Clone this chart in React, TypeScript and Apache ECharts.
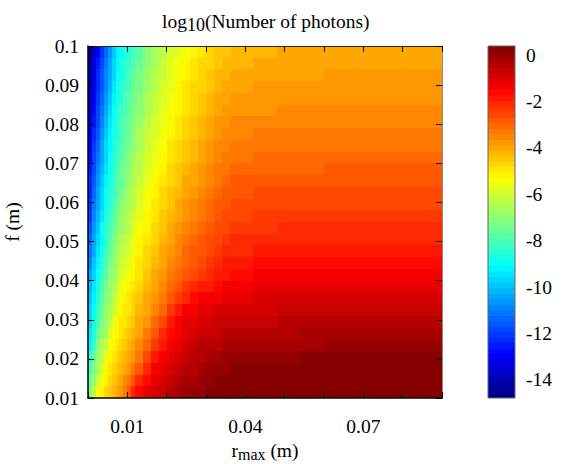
import React, { useEffect, useRef } from "react";
import * as echarts from "echarts";

const rEdges = [0, 0.001, 0.002, 0.003, 0.004, 0.005, 0.006, 0.007, 0.008, 0.009, 0.01, 0.011, 0.012, 0.014, 0.016, 0.018, 0.02, 0.022, 0.024, 0.026, 0.028, 0.03, 0.032, 0.034, 0.036, 0.042, 0.048, 0.054, 0.06, 0.066, 0.072, 0.078, 0.084, 0.09];
const fEdges = [0.01, 0.013, 0.016, 0.019, 0.022, 0.025, 0.028, 0.031, 0.034, 0.037, 0.04, 0.043, 0.046, 0.049, 0.052, 0.055, 0.058, 0.061, 0.064, 0.067, 0.07, 0.073, 0.076, 0.079, 0.082, 0.085, 0.088, 0.091, 0.094, 0.097, 0.1];
const rTicks = [0, 0.01, 0.02, 0.03, 0.04, 0.05, 0.06, 0.07, 0.08, 0.09];
const rLabels = [0.01, 0.04, 0.07];
const barLabels = [-14, -12, -10, -8, -6, -4, -2, 0];
const barMin = -14.78;
const barMax = 0.39;
const bandCount = 64;

// log10(number of photons); rows run from low f to high f
const logPhotons = [
  [-7.2,-6.2,-5.45,-5.15,-4.8,-4.5,-4.25,-4,-3.65,-3.25,-2.7,-2.15,-1.55,-1.25,-0.95,-0.7,-0.47,-0.24,-0.05,0.04,0.12,0.18,0.23,0.27,0.31,0.34,0.35,0.35,0.35,0.35,0.35,0.35,0.35],
  [-7.6,-6.85,-6.2,-5.4,-5.1,-4.8,-4.5,-4.2,-3.9,-3.6,-3.2,-2.8,-2.2,-1.6,-1.25,-0.92,-0.7,-0.48,-0.28,-0.14,-0.02,0.09,0.17,0.21,0.26,0.3,0.31,0.32,0.32,0.32,0.32,0.32,0.32],
  [-8,-7.1,-6.55,-5.9,-5.2,-4.95,-4.7,-4.45,-4.15,-3.95,-3.7,-3.35,-2.8,-2,-1.5,-1.12,-0.87,-0.66,-0.47,-0.33,-0.16,-0.05,0.05,0.13,0.2,0.25,0.27,0.28,0.28,0.28,0.28,0.28,0.28],
  [-8.5,-7.55,-6.9,-6.4,-5.7,-5.2,-4.95,-4.7,-4.4,-4.25,-4.05,-3.75,-3.3,-2.6,-1.9,-1.45,-1.1,-0.88,-0.68,-0.52,-0.38,-0.25,-0.13,-0.04,0.06,0.12,0.15,0.16,0.17,0.17,0.17,0.17,0.17],
  [-9.1,-8.2,-7.15,-6.7,-6.15,-5.45,-5.15,-4.95,-4.7,-4.5,-4.25,-4.05,-3.6,-3.05,-2.35,-1.75,-1.35,-1.07,-0.85,-0.7,-0.52,-0.42,-0.34,-0.27,-0.19,-0.13,-0.1,-0.09,-0.08,-0.08,-0.08,-0.08,-0.08],
  [-9.4,-8.5,-7.55,-7,-6.5,-5.95,-5.35,-5.1,-4.9,-4.75,-4.5,-4.25,-3.95,-3.4,-2.85,-2.15,-1.65,-1.35,-1.08,-0.92,-0.78,-0.67,-0.57,-0.5,-0.43,-0.37,-0.34,-0.32,-0.31,-0.31,-0.31,-0.31,-0.31],
  [-9.6,-8.75,-8,-7.2,-6.8,-6.3,-5.75,-5.25,-5,-4.85,-4.65,-4.45,-4.1,-3.65,-3.1,-2.55,-1.95,-1.45,-1.2,-1.05,-0.93,-0.85,-0.79,-0.74,-0.66,-0.58,-0.55,-0.53,-0.52,-0.52,-0.52,-0.52,-0.52],
  [-9.8,-9,-8.3,-7.5,-6.95,-6.55,-6.05,-5.55,-5.2,-5.05,-4.85,-4.6,-4.35,-3.95,-3.45,-3,-2.45,-1.95,-1.5,-1.35,-1.2,-1.1,-1,-0.95,-0.87,-0.81,-0.78,-0.76,-0.75,-0.75,-0.75,-0.75,-0.75],
  [-10,-9.2,-8.5,-7.8,-7.15,-6.75,-6.3,-5.85,-5.45,-5.25,-5.05,-4.8,-4.55,-4.1,-3.65,-3.25,-2.85,-2.45,-2.05,-1.72,-1.5,-1.38,-1.27,-1.18,-1.07,-1.02,-1,-0.98,-0.97,-0.97,-0.97,-0.97,-0.97],
  [-10.2,-9.4,-8.7,-8.05,-7.4,-6.95,-6.55,-6.1,-5.75,-5.5,-5.2,-5,-4.65,-4.3,-3.9,-3.5,-3.1,-2.75,-2.4,-2.1,-1.92,-1.76,-1.62,-1.5,-1.35,-1.26,-1.22,-1.2,-1.19,-1.19,-1.19,-1.19,-1.19],
  [-10.5,-9.7,-8.95,-8.3,-7.7,-7.15,-6.75,-6.35,-6,-5.75,-5.35,-5.15,-4.85,-4.5,-4.1,-3.75,-3.35,-3.05,-2.75,-2.5,-2.3,-2.12,-1.97,-1.85,-1.65,-1.5,-1.45,-1.43,-1.41,-1.41,-1.41,-1.41,-1.41],
  [-10.8,-10,-9.15,-8.55,-7.95,-7.35,-6.95,-6.6,-6.2,-5.95,-5.6,-5.25,-5,-4.65,-4.3,-3.95,-3.55,-3.25,-2.95,-2.72,-2.5,-2.3,-2.13,-1.98,-1.8,-1.71,-1.67,-1.65,-1.63,-1.63,-1.63,-1.63,-1.63],
  [-11,-10.3,-9.4,-8.8,-8.2,-7.65,-7.15,-6.8,-6.45,-6.2,-5.85,-5.55,-5.15,-4.8,-4.5,-4.1,-3.75,-3.45,-3.15,-2.92,-2.7,-2.5,-2.32,-2.17,-2,-1.91,-1.87,-1.85,-1.83,-1.83,-1.83,-1.83,-1.83],
  [-11.3,-10.5,-9.65,-8.95,-8.4,-7.9,-7.35,-6.95,-6.65,-6.4,-6.05,-5.75,-5.25,-4.9,-4.6,-4.25,-3.9,-3.62,-3.35,-3.1,-2.87,-2.67,-2.48,-2.33,-2.17,-2.08,-2.05,-2.03,-2.01,-2.01,-2.01,-2.01,-2.01],
  [-11.6,-10.7,-9.9,-9.05,-8.6,-8.1,-7.6,-7.15,-6.8,-6.55,-6.25,-5.95,-5.45,-5.1,-4.75,-4.4,-4.1,-3.8,-3.52,-3.28,-3.03,-2.82,-2.63,-2.47,-2.31,-2.23,-2.2,-2.18,-2.16,-2.16,-2.16,-2.16,-2.16],
  [-12,-10.9,-10.1,-9.4,-8.8,-8.3,-7.85,-7.3,-6.95,-6.7,-6.4,-6.1,-5.65,-5.2,-4.85,-4.55,-4.25,-3.95,-3.7,-3.45,-3.2,-2.98,-2.78,-2.62,-2.46,-2.38,-2.35,-2.33,-2.31,-2.31,-2.31,-2.31,-2.31],
  [-12.1,-11.1,-10.3,-9.6,-8.9,-8.5,-8,-7.55,-7.1,-6.9,-6.55,-6.25,-5.85,-5.3,-5,-4.7,-4.4,-4.1,-3.85,-3.6,-3.35,-3.12,-2.92,-2.76,-2.6,-2.53,-2.5,-2.48,-2.46,-2.46,-2.46,-2.46,-2.46],
  [-12.2,-11.4,-10.5,-9.8,-9.05,-8.6,-8.2,-7.75,-7.3,-7.05,-6.7,-6.4,-6,-5.5,-5.15,-4.8,-4.55,-4.25,-3.98,-3.75,-3.5,-3.27,-3.05,-2.9,-2.77,-2.69,-2.65,-2.63,-2.61,-2.61,-2.61,-2.61,-2.61],
  [-12.4,-11.5,-10.7,-10,-9.2,-8.7,-8.3,-7.9,-7.5,-7.2,-6.85,-6.55,-6.15,-5.7,-5.25,-4.95,-4.65,-4.4,-4.1,-3.9,-3.65,-3.42,-3.2,-3.05,-2.92,-2.85,-2.81,-2.79,-2.77,-2.77,-2.77,-2.77,-2.77],
  [-12.6,-11.7,-10.9,-10.1,-9.4,-8.85,-8.45,-8.05,-7.65,-7.35,-7,-6.7,-6.3,-5.85,-5.4,-5.1,-4.8,-4.55,-4.25,-4,-3.8,-3.55,-3.35,-3.2,-3.07,-3,-2.96,-2.93,-2.91,-2.91,-2.91,-2.91,-2.91],
  [-12.8,-11.9,-11.1,-10.3,-9.6,-9,-8.6,-8.2,-7.8,-7.55,-7.15,-6.85,-6.45,-5.95,-5.55,-5.2,-4.9,-4.65,-4.4,-4.15,-3.95,-3.7,-3.48,-3.34,-3.2,-3.13,-3.09,-3.06,-3.04,-3.04,-3.04,-3.04,-3.04],
  [-13,-12.1,-11.3,-10.5,-9.8,-9.1,-8.7,-8.3,-7.95,-7.65,-7.3,-7,-6.55,-6.1,-5.65,-5.3,-5.05,-4.75,-4.5,-4.25,-4.05,-3.8,-3.6,-3.47,-3.34,-3.27,-3.23,-3.2,-3.18,-3.18,-3.18,-3.18,-3.18],
  [-13.2,-12.3,-11.5,-10.7,-10,-9.3,-8.85,-8.4,-8,-7.75,-7.45,-7.15,-6.7,-6.2,-5.8,-5.4,-5.15,-4.9,-4.65,-4.4,-4.15,-3.95,-3.72,-3.6,-3.47,-3.4,-3.36,-3.33,-3.31,-3.31,-3.31,-3.31,-3.31],
  [-13.5,-12.5,-11.7,-10.9,-10.2,-9.5,-8.95,-8.5,-8.1,-7.85,-7.55,-7.3,-6.85,-6.35,-5.95,-5.55,-5.25,-5,-4.75,-4.55,-4.25,-4.05,-3.85,-3.72,-3.6,-3.52,-3.48,-3.45,-3.43,-3.43,-3.43,-3.43,-3.43],
  [-13.7,-12.7,-11.9,-11.1,-10.4,-9.7,-9,-8.6,-8.2,-7.95,-7.6,-7.35,-7,-6.5,-6.05,-5.7,-5.3,-5.1,-4.85,-4.65,-4.4,-4.15,-3.95,-3.85,-3.72,-3.64,-3.6,-3.57,-3.55,-3.55,-3.55,-3.55,-3.55],
  [-14,-12.9,-12.1,-11.3,-10.6,-9.9,-9.2,-8.8,-8.4,-8.1,-7.8,-7.5,-7.15,-6.7,-6.2,-5.8,-5.45,-5.2,-4.95,-4.7,-4.5,-4.25,-4.05,-3.95,-3.84,-3.75,-3.71,-3.68,-3.66,-3.66,-3.66,-3.66,-3.66],
  [-14.1,-13.1,-12.3,-11.5,-10.8,-10.1,-9.4,-8.9,-8.5,-8.25,-7.95,-7.65,-7.25,-6.8,-6.3,-5.9,-5.55,-5.25,-5,-4.8,-4.6,-4.4,-4.2,-4.08,-3.95,-3.85,-3.81,-3.78,-3.76,-3.76,-3.76,-3.76,-3.76],
  [-14.3,-13.3,-12.4,-11.6,-10.9,-10.3,-9.6,-9,-8.65,-8.4,-8.1,-7.8,-7.4,-6.95,-6.45,-6.05,-5.65,-5.35,-5.1,-4.9,-4.7,-4.5,-4.3,-4.2,-4.08,-3.97,-3.92,-3.89,-3.87,-3.87,-3.87,-3.87,-3.87],
  [-14.4,-13.5,-12.6,-11.9,-11.1,-10.4,-9.8,-9.1,-8.8,-8.6,-8.3,-8,-7.55,-7,-6.6,-6.15,-5.75,-5.45,-5.2,-5,-4.8,-4.6,-4.42,-4.32,-4.2,-4.08,-4.02,-3.98,-3.96,-3.96,-3.96,-3.96,-3.96],
  [-14.6,-13.8,-12.9,-12.1,-11.3,-10.6,-9.9,-9.3,-8.9,-8.7,-8.4,-8.1,-7.7,-7.15,-6.7,-6.3,-5.9,-5.6,-5.3,-5.1,-4.9,-4.7,-4.5,-4.42,-4.3,-4.15,-4.1,-4.06,-4.04,-4.04,-4.04,-4.04,-4.04],
];

function jetColor(t: number): string {
  const ch = (c: number) => Math.round(255 * Math.max(0, Math.min(1, c)));
  const r = 1.5 - Math.abs(4 * t - 3);
  const g = 1.5 - Math.abs(4 * t - 2);
  const b = 1.5 - Math.abs(4 * t - 1);
  return `rgb(${ch(r)},${ch(g)},${ch(b)})`;
}

const FONT = "'Liberation Serif', serif";
const SIZE = 19.5;

export default function App() {
  const ref = useRef<HTMLDivElement>(null);
  useEffect(() => {
    const chart = echarts.init(ref.current!, null, { renderer: "svg" });

    const cells: number[][] = [];
    logPhotons.forEach((row, j) => {
      row.forEach((v, i) => {
        cells.push([rEdges[i], rEdges[i + 1], fEdges[j], fEdges[j + 1], v]);
      });
    });

    const bandSize = (barMax - barMin) / bandCount;
    const barCells: number[][] = [];
    const bandColors: string[] = [];
    for (let k = 0; k < bandCount; k++) {
      const lo = barMin + k * bandSize;
      barCells.push([0, 1, lo, lo + bandSize, lo + bandSize / 2]);
      bandColors.push(jetColor((k + 0.5) / bandCount));
    }

    const renderCell = (_p: any, api: any) => {
      const a = api.coord([api.value(0), api.value(2)]);
      const b = api.coord([api.value(1), api.value(3)]);
      const x = Math.round(a[0]);
      const y = Math.round(b[1]);
      return {
        type: "rect",
        shape: { x, y, width: Math.round(b[0]) - x, height: Math.round(a[1]) - y },
        style: { fill: api.visual("color") },
      };
    };

    const tickStyle = { color: "#000", width: 1 };
    const text = { fontFamily: FONT, fontSize: SIZE, color: "#000" };

    chart.setOption({
      animation: false,
      backgroundColor: "#fff",
      title: {
        text: "log{sub|10}(Number of photons)",
        left: 162,
        top: 8,
        padding: 0,
        textStyle: {
          fontFamily: FONT,
          fontSize: SIZE,
          fontWeight: "normal",
          color: "#000",
          rich: {
            sub: { fontFamily: FONT, fontSize: 18, color: "#000", verticalAlign: "bottom", padding: [8, 0, 0, 0] },
          },
        },
      },
      grid: [
        { left: 88, top: 46, width: 354, height: 352, outerBoundsMode: "none" },
        { left: 488, top: 46, width: 27, height: 352, outerBoundsMode: "none" },
      ],
      visualMap: {
        type: "piecewise",
        show: false,
        min: barMin,
        max: barMax,
        splitNumber: bandCount,
        dimension: 4,
        seriesIndex: [0, 1],
        inRange: { color: bandColors },
      },
      xAxis: [
        {
          type: "value", gridIndex: 0, position: "bottom", min: 0, max: 0.09, z: 5,
          name: "r{sub|max} (m)", nameLocation: "middle", nameGap: 41,
          nameTextStyle: { ...text, rich: { sub: { fontFamily: FONT, fontSize: 16, color: "#000", verticalAlign: "bottom", padding: [7, 0, 0, 0] } } },
          axisLine: { show: true, onZero: false, lineStyle: { color: "#000", width: 1.5 } },
          axisTick: { show: true, inside: true, length: 6, customValues: rTicks, lineStyle: tickStyle },
          axisLabel: { ...text, margin: 18, customValues: rLabels, formatter: (v: number) => String(v) },
          splitLine: { show: false },
        },
        {
          type: "value", gridIndex: 0, position: "top", min: 0, max: 0.09, z: 5,
          axisLine: { show: true, onZero: false, lineStyle: { color: "#222", width: 1 } },
          axisTick: { show: true, inside: true, length: 6, customValues: rTicks, lineStyle: tickStyle },
          axisLabel: { show: false },
          splitLine: { show: false },
        },
        {
          type: "value", gridIndex: 1, min: 0, max: 1,
          axisLine: { show: false }, axisTick: { show: false }, axisLabel: { show: false }, splitLine: { show: false },
        },
      ],
      yAxis: [
        {
          type: "value", gridIndex: 0, position: "left", min: 0.01, max: 0.1, interval: 0.01, z: 5,
          name: "f (m)", nameLocation: "middle", nameGap: 66, nameRotate: 90,
          nameTextStyle: text,
          axisLine: { show: true, onZero: false, lineStyle: { color: "#000", width: 1.5 } },
          axisTick: { show: true, inside: true, length: 6, lineStyle: tickStyle },
          axisLabel: { ...text, margin: 9, formatter: (v: number) => String(+v.toFixed(2)) },
          splitLine: { show: false },
        },
        {
          type: "value", gridIndex: 0, position: "right", min: 0.01, max: 0.1, interval: 0.01, z: 5,
          axisLine: { show: true, onZero: false, lineStyle: { color: "#888", width: 1 } },
          axisTick: { show: true, inside: true, length: 6, lineStyle: tickStyle },
          axisLabel: { show: false },
          splitLine: { show: false },
        },
        {
          type: "value", gridIndex: 1, position: "right", min: barMin, max: barMax, z: 5,
          axisLine: { show: false },
          axisTick: { show: false },
          axisLabel: { ...text, margin: 11, align: "left", customValues: barLabels, formatter: (v: number) => String(v) },
          splitLine: { show: false },
        },
      ],
      series: [
        {
          type: "custom", xAxisIndex: 0, yAxisIndex: 0, data: cells, renderItem: renderCell,
          encode: { x: [0, 1], y: [2, 3] }, clip: true, silent: true,
        },
        {
          type: "custom", xAxisIndex: 2, yAxisIndex: 2, data: barCells, renderItem: renderCell,
          encode: { x: [0, 1], y: [2, 3] }, clip: true, silent: true,
        },
      ],
      graphic: [
        { type: "rect", z: 10, shape: { x: 488, y: 46, width: 27, height: 352 }, style: { fill: "none", stroke: "#666", lineWidth: 1 } },
      ],
    });
    return () => chart.dispose();
  }, []);
  return <div ref={ref} style={{ position: "absolute", left: 0, top: 0, width: 562, height: 464 }} />;
}
